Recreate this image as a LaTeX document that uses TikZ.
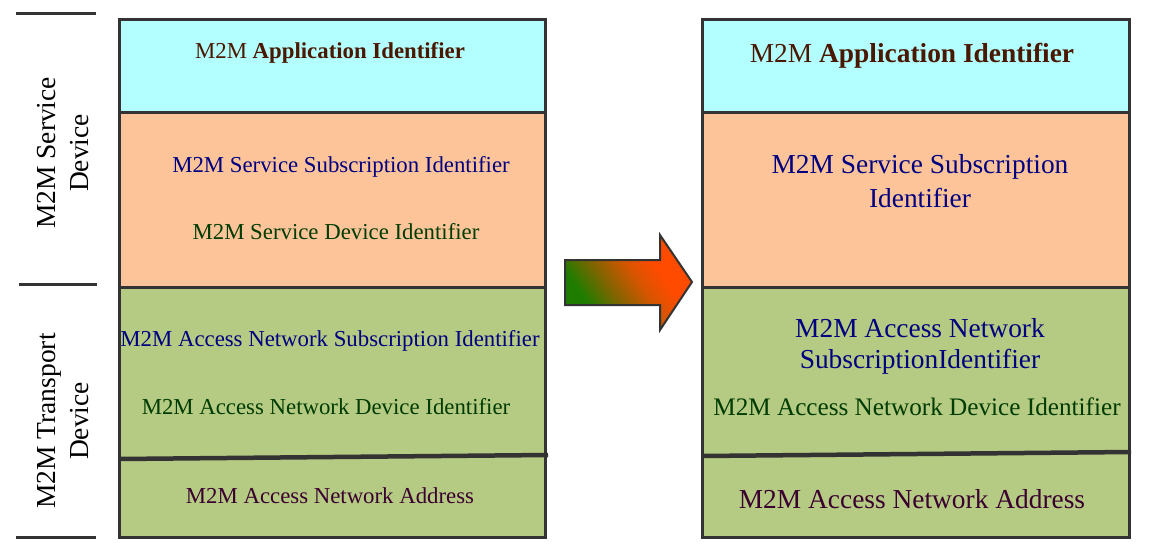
\documentclass[tikz,border=0pt]{standalone}
\usepackage{fontspec}
\setmainfont{Liberation Serif}
\usetikzlibrary{shadings}
\definecolor{cyanfill}{HTML}{B3FFFF}
\definecolor{orangefill}{HTML}{FDC49A}
\definecolor{greenfill}{HTML}{B5CA82}
\definecolor{edge}{HTML}{333333}
\definecolor{brownt}{HTML}{4A1800}
\definecolor{navyt}{HTML}{000080}
\definecolor{greent}{HTML}{003C00}
\definecolor{purplet}{HTML}{3A0030}
\definecolor{arrG}{RGB}{30,125,0}
\definecolor{arrM}{RGB}{130,100,0}
\definecolor{arrN}{RGB}{215,85,0}
\definecolor{arrO}{RGB}{255,75,0}
\pgfdeclarehorizontalshading{arrowshade}{100bp}{color(0bp)=(arrG); color(30bp)=(arrG); color(42bp)=(arrM); color(54bp)=(arrN); color(64bp)=(arrO); color(100bp)=(arrO)}
\tikzset{
  lt/.style={font=\fontsize{22.8}{27}\selectfont, anchor=base, inner sep=0pt},
  rt/.style={font=\fontsize{27.4}{33}\selectfont, anchor=base, inner sep=0pt},
  side/.style={font=\fontsize{27.5}{33}\selectfont, rotate=90, align=center, inner sep=0pt},
  frame/.style={draw=edge, line width=3pt},
  rule/.style={draw=edge, line width=3pt},
  divider/.style={draw=edge, line width=4.5pt},
}
\begin{document}
\begin{tikzpicture}[x=1pt, y=-1pt]
\useasboundingbox (0,0) rectangle (1149,554);
% side rules
\coordinate (r1a) at (16,13);  \coordinate (r1b) at (96,13);
\coordinate (r2a) at (19,284); \coordinate (r2b) at (97,284);
\coordinate (r3a) at (16,537); \coordinate (r3b) at (96,537);
\draw[rule] (r1a) -- (r1b);
\draw[rule] (r2a) -- (r2b);
\draw[rule] (r3a) -- (r3b);
\node[side] (sdev) at (63.5,153) {M2M Service\\Device};
\node[side] (tdev) at (63.5,421) {M2M Transport\\Device};
% left stack
\fill[cyanfill] (119,19) rectangle (545,112);
\fill[orangefill] (119,112) rectangle (545,287);
\fill[greenfill] (119,287) rectangle (545,537);
\draw[rule] (119,112) -- (545,112);
\draw[rule] (119,287) -- (545,287);
\draw[divider] (119,459) -- (548,455);
\draw[frame] (119,19) rectangle (545,537);
\node[lt, text=brownt] (lapp) at (330,58) {M2M \textbf{Application Identifier}};
\node[lt, text=navyt] (lss) at (341,172) {M2M Service Subscription Identifier};
\node[lt, text=greent] (lsd) at (336,239) {M2M Service Device Identifier};
\node[lt, text=navyt] (lans) at (330,346) {M2M Access Network Subscription Identifier};
\node[lt, text=greent] (land) at (326,414) {M2M Access Network Device Identifier};
\node[lt, text=purplet] (lana) at (330,503) {M2M Access Network Address};
% arrow
\shadedraw[draw=edge, line width=2pt, line join=miter, shading=arrowshade, shading angle=35]
  (565,260) -- (660,260) -- (660,235) -- (692,282) -- (660,330) -- (660,305) -- (565,305) -- cycle;
% right stack
\fill[cyanfill] (702,19) rectangle (1129,112);
\fill[orangefill] (702,112) rectangle (1129,287);
\fill[greenfill] (702,287) rectangle (1129,537);
\draw[rule] (702,112) -- (1129,112);
\draw[rule] (702,287) -- (1129,287);
\draw[divider] (702,456) -- (1131,452);
\draw[frame] (702,19) rectangle (1129,537);
\node[rt, text=brownt] (rapp) at (912,62) {M2M \textbf{Application Identifier}};
\node[rt, text=navyt] (rss1) at (920,173) {M2M Service Subscription};
\node[rt, text=navyt] (rss2) at (920,207) {Identifier};
\node[rt, text=navyt] (rans1) at (920,337) {M2M Access Network};
\node[rt, text=navyt] (rans2) at (920,368) {SubscriptionIdentifier};
\node[lt, font=\fontsize{25.2}{30}\selectfont, text=greent] (rand) at (917,415) {M2M Access Network Device Identifier};
\node[rt, text=purplet] (rana) at (912,508) {M2M Access Network Address};
\end{tikzpicture}
\end{document}
